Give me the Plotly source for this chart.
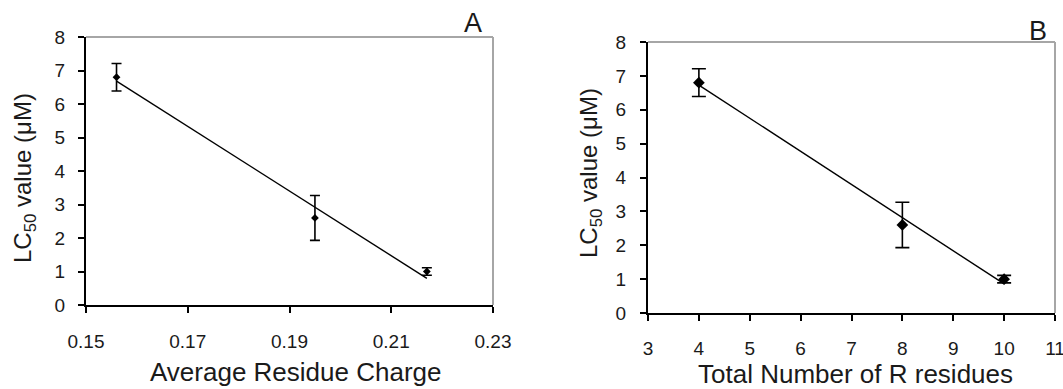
import numpy as np
import plotly.graph_objects as go

# Data
avg_charge = [0.156, 0.195, 0.217]
n_residues = [4, 8, 10]
lc50 = [6.8, 2.6, 1.0]
lc50_err = [0.41, 0.67, 0.11]

FONT = "Liberation Sans, Arial, sans-serif"
TXT = "#1a1a1a"
W, H = 1063, 389

def px(x): return x / W
def py(y): return 1 - y / H

fig = go.Figure()

# Panel A
fig.add_trace(go.Scatter(
    x=avg_charge, y=lc50, mode="markers",
    marker=dict(symbol="diamond", size=6, color="black"),
    error_y=dict(type="data", array=lc50_err, color="black", thickness=1.6, width=5),
    xaxis="x", yaxis="y", showlegend=False))
ca = np.polyfit(avg_charge, lc50, 1)
xa = [min(avg_charge), max(avg_charge)]
fig.add_trace(go.Scatter(x=xa, y=list(np.polyval(ca, xa)), mode="lines",
                         line=dict(color="black", width=1.4),
                         xaxis="x", yaxis="y", showlegend=False))

# Panel B
fig.add_trace(go.Scatter(
    x=n_residues, y=lc50, mode="markers",
    marker=dict(symbol="diamond", size=9, color="black"),
    error_y=dict(type="data", array=lc50_err, color="black", thickness=1.6, width=7),
    xaxis="x2", yaxis="y2", showlegend=False))
cb = np.polyfit(n_residues, lc50, 1)
xb = [min(n_residues), max(n_residues)]
fig.add_trace(go.Scatter(x=xb, y=list(np.polyval(cb, xb)), mode="lines",
                         line=dict(color="black", width=1.4),
                         xaxis="x2", yaxis="y2", showlegend=False))

axis_common = dict(showline=True, linecolor="black", linewidth=2, ticks="outside",
                   ticklen=6, tickwidth=2, tickcolor="black", showgrid=False,
                   zeroline=False, automargin=False, ticklabeloverflow="allow",
                   tickfont=dict(family=FONT, size=19, color=TXT))

fig.update_layout(
    width=W, height=H, margin=dict(l=0, r=0, t=0, b=0, autoexpand=False),
    paper_bgcolor="white", plot_bgcolor="white",
    xaxis=dict(domain=[px(86), px(493)], range=[0.15, 0.23], dtick=0.02, tick0=0.15,
               tickformat=".2f", anchor="y", ticklabelstandoff=12, **axis_common),
    yaxis=dict(domain=[py(305), py(37)], range=[0, 8], dtick=1, anchor="x",
               ticklabelstandoff=9, **axis_common),
    xaxis2=dict(domain=[px(648), px(1055)], range=[3, 11], dtick=1, anchor="y2",
                ticklabelstandoff=11, **axis_common),
    yaxis2=dict(domain=[py(313), py(42)], range=[0, 8], dtick=1, anchor="x2",
                ticklabelstandoff=10, **axis_common),
)

# Gray top/right borders
for xr, yr in (("x domain", "y domain"), ("x2 domain", "y2 domain")):
    fig.add_shape(type="line", xref=xr, yref=yr, x0=0, x1=1, y0=1, y1=1,
                  line=dict(color="#a6a6a6", width=2))
    fig.add_shape(type="line", xref=xr, yref=yr, x0=1, x1=1, y0=0, y1=1,
                  line=dict(color="#a6a6a6", width=2))

def ann(text, x, y, size, angle=0):
    fig.add_annotation(text=text, x=px(x), y=py(y), xref="paper", yref="paper",
                       showarrow=False, textangle=angle, xanchor="center", yanchor="middle",
                       font=dict(family=FONT, size=size, color=TXT))

ann("Average Residue Charge", 295, 372, 26)
ann("LC<sub>50</sub> value (μM)", 24, 178, 24, -90)
ann("A", 473, 23, 27)
ann("Total Number of R residues", 855, 374, 26)
ann("LC<sub>50</sub> value (μM)", 590, 173, 24, -90)
ann("B", 1038, 31, 27)

fig.write_html("out.html", config={"displayModeBar": False},
               post_script="document.body.style.margin='0';document.body.style.overflow='hidden';")
